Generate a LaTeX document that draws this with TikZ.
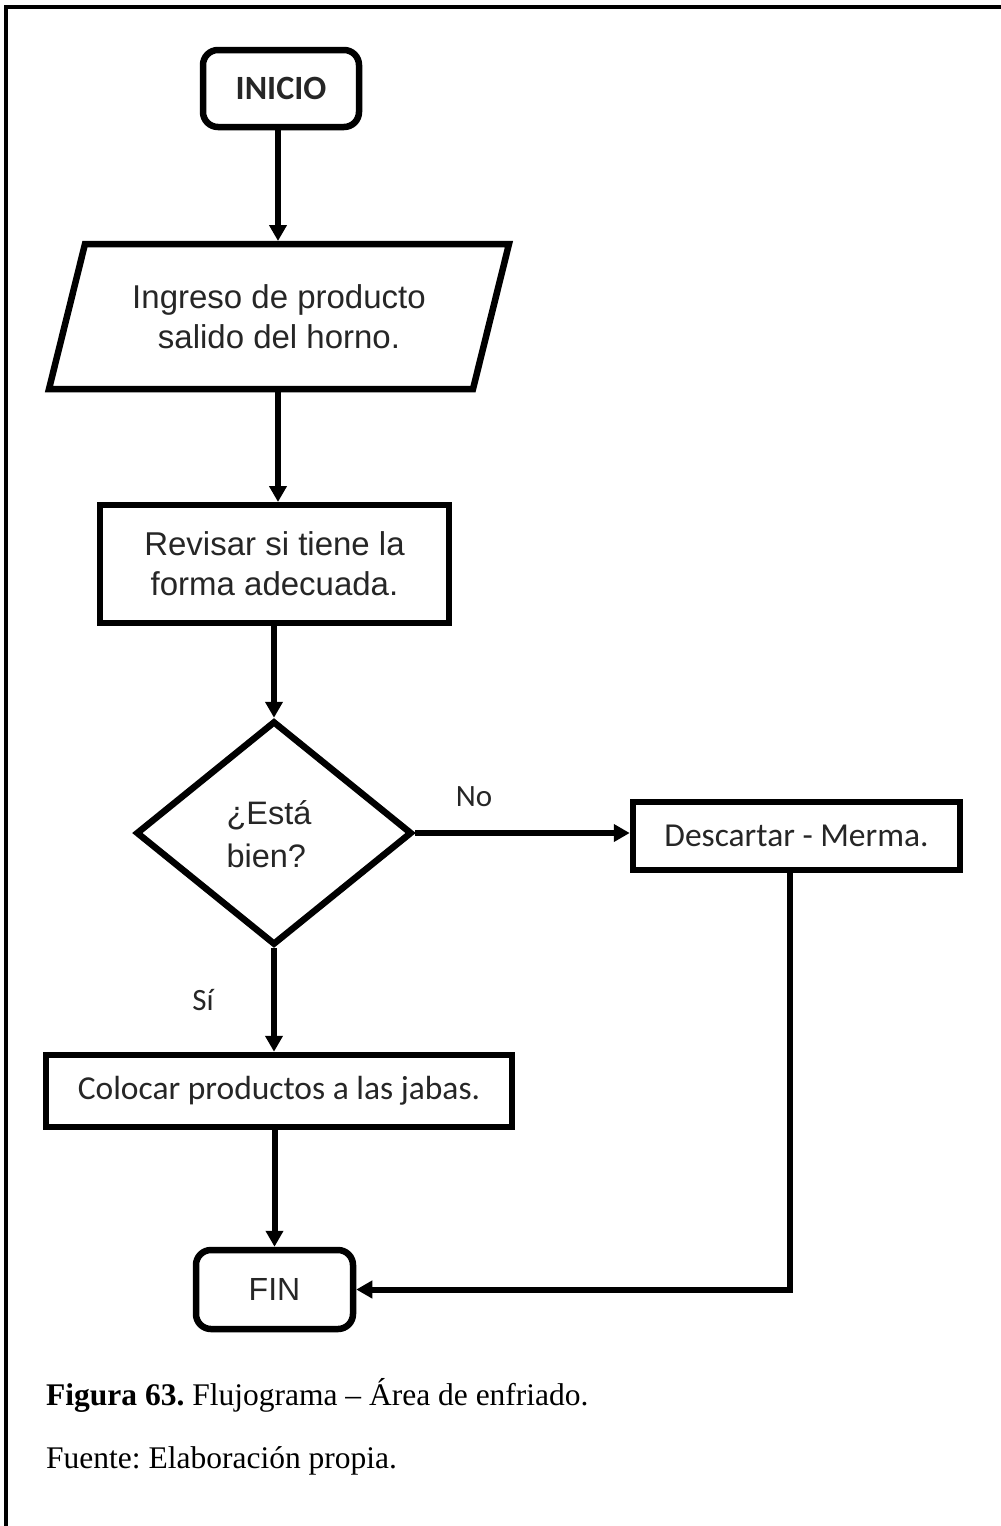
\documentclass[tikz,border=0pt]{standalone}
\usepackage{fontspec}
\setmainfont{Liberation Serif}
\newfontfamily\arialf{Liberation Sans}
\newfontfamily\calif{Carlito}
\usetikzlibrary{arrows.meta,shapes.geometric}
\frenchspacing
\begin{document}
\begin{tikzpicture}[x=1pt,y=-1pt,
  box/.style={draw=black,line width=6.5pt,inner sep=0pt,fill=white},
  term/.style={box,rounded corners=15pt},
  arr/.style={line width=6pt,-{Triangle[length=16pt,width=17pt]}},
  ftA/.style={font=\arialf\fontsize{33}{40}\selectfont,text=black!85},
  ftC/.style={font=\calif\fontsize{33.5}{38}\selectfont,text=black!85}]
\useasboundingbox (0,0) rectangle (1001,1526);
% page frame (top and left edges only)
\draw[line width=4pt] (6,1526) -- (6,7) -- (1001,7);

% nodes
\node[term,minimum width=156pt,minimum height=77pt,ftC,font=\calif\bfseries\fontsize{34}{38}\selectfont] (inicio) at (281,88.5) {INICIO};
\node[inner sep=0pt,minimum width=430pt,minimum height=145pt,ftA,align=center] (ingreso) at (279,316.5) {Ingreso de producto\\salido del horno.};
\draw[line width=6.5pt,line join=miter] (85,244) -- (509,244) -- (473,389) -- (49,389) -- cycle;
\node[box,minimum width=349pt,minimum height=118pt,ftA,align=center] (revisar) at (274.5,564) {Revisar si tiene la\\forma adecuada.};
\node[box,diamond,minimum width=276pt,minimum height=224pt,aspect=1.23] (dec) at (274,833) {};
\node[ftA,align=left,font=\arialf\fontsize{32.5}{43}\selectfont] (dectext) at (269,834) {¿Está\\bien?};
\node[box,minimum width=327pt,minimum height=68pt,ftC] (desc) at (796.5,836) {Descartar - Merma.};
\node[box,minimum width=466pt,minimum height=72pt,ftC] (colocar) at (279,1091) {Colocar productos a las jabas.};
\node[term,minimum width=157pt,minimum height=79pt,ftA,font=\arialf\fontsize{32}{38}\selectfont] (fin) at (274.5,1289.5) {FIN};

% branch labels
\node[ftC,font=\calif\fontsize{31}{36}\selectfont] (lno) at (474,797) {No};
\node[ftC,font=\calif\fontsize{31}{36}\selectfont] (lsi) at (203,1000) {Sí};

% connectors
\draw[arr] (inicio.south -| 278,0) -- (278,241);
\draw[arr] (278,392) -- (278,502);
\draw[arr] (revisar.south -| dec.north) -- (dec.north);
\draw[arr] (dec.east) -- (desc.west |- dec.east);
\draw[arr] (dec.south) -- (dec.south |- colocar.north);
\draw[arr] (colocar.south -| fin.north) -- (fin.north);
\draw[arr] (desc.south -| 790,0) |- (fin.east);

% caption
\node[anchor=base west,inner sep=0pt,font=\frenchspacing\fontsize{31.5}{36}\selectfont] (cap) at (46,1405) {\textbf{Figura 63.} Flujograma – Área de enfriado.};
\node[anchor=base west,inner sep=0pt,font=\frenchspacing\fontsize{31.5}{36}\selectfont] (src) at (46,1468) {Fuente: Elaboración propia.};
\end{tikzpicture}
\end{document}
